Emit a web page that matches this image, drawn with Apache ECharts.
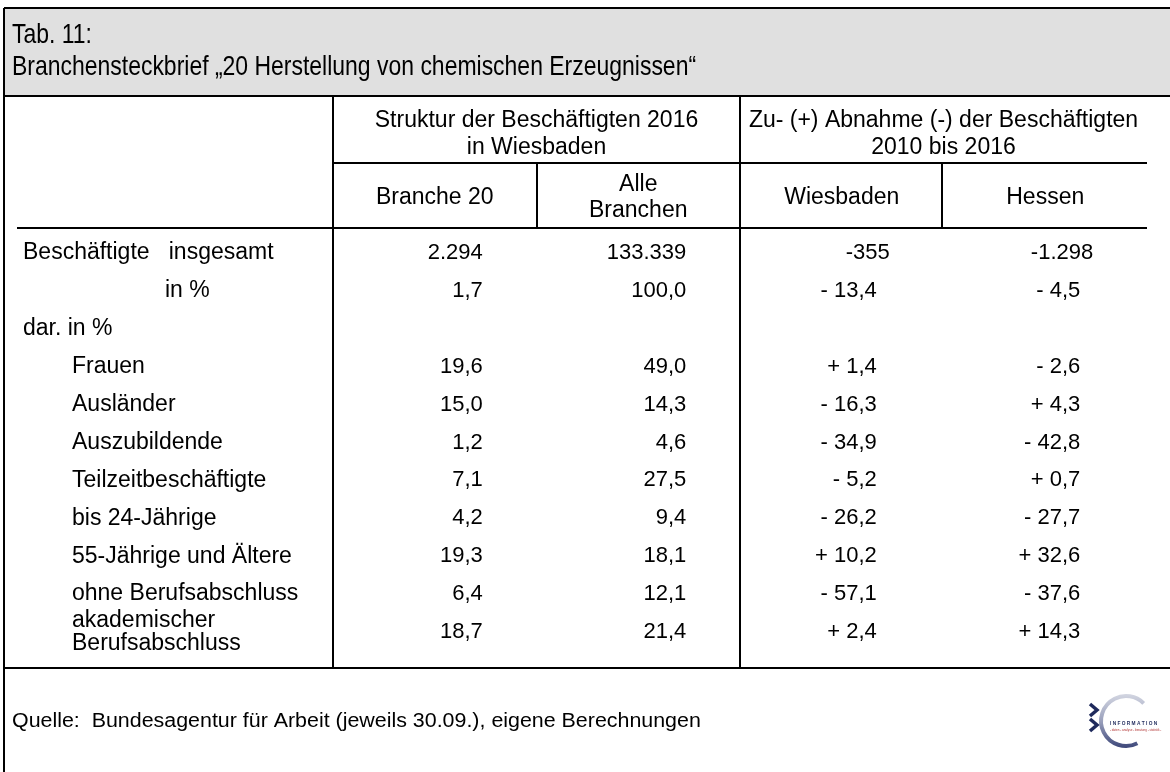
<!DOCTYPE html>
<html>
<head>
<meta charset="utf-8">
<script src="https://cdn.jsdelivr.net/npm/echarts@6/dist/echarts.min.js"></script>
<style>
  html, body { margin: 0; padding: 0; background: #fff; }
  #chart { width: 1170px; height: 772px; }
</style>
</head>
<body>
<div id="chart"></div>
<script>
// Zeilen der Tabelle
const rowLabels = [
  'Beschäftigte   insgesamt', 'in %', 'dar. in %', 'Frauen', 'Ausländer', 'Auszubildende',
  'Teilzeitbeschäftigte', 'bis 24-Jährige', '55-Jährige und Ältere', 'ohne Berufsabschluss',
  'akademischer\nBerufsabschluss'
]
// 0 = Hauptzeile, 1 = "in %", 2 = Unterzeile
const rowLevel = [0, 1, 0, 2, 2, 2, 2, 2, 2, 2, 2]
const columns = ['Branche 20', 'Alle\nBranchen', 'Wiesbaden', 'Hessen']
const groups = ['Struktur der Beschäftigten 2016\nin Wiesbaden', 'Zu- (+) Abnahme (-) der Beschäftigten\n2010 bis 2016']

const branche20 = [2294, 1.7, null, 19.6, 15.0, 1.2, 7.1, 4.2, 19.3, 6.4, 18.7]
const alleBranchen = [133339, 100.0, null, 49.0, 14.3, 4.6, 27.5, 9.4, 18.1, 12.1, 21.4]
const wiesbaden = [-355, -13.4, null, 1.4, -16.3, -34.9, -5.2, -26.2, 10.2, -57.1, 2.4]
const hessen = [-1298, -4.5, null, -2.6, 4.3, -42.8, 0.7, -27.7, 32.6, -37.6, 14.3]

const titleText = 'Tab. 11:\nBranchensteckbrief „20 Herstellung von chemischen Erzeugnissen“'
const sourceText = 'Quelle:  Bundesagentur für Arbeit (jeweils 30.09.), eigene Berechnungen'

const FONT = "'Liberation Sans', Arial, sans-serif"
const LINE = '#000'
const NAVY = '#1f2a5c'

const fmtInt = (v) => (v < 0 ? '-' : '') + String(Math.abs(v)).replace(/\B(?=(\d{3})+(?!\d))/g, '.')
const fmtDec = (v) => Math.abs(v).toFixed(1).replace('.', ',')

// Zellen aufbauen: [spalte, zeile, text, offset]
const cells = []
const allCols = [branche20, alleBranchen, wiesbaden, hessen]
allCols.forEach((col, c) => {
  col.forEach((v, r) => {
    if (v === null) return
    const change = c >= 2
    let txt, off = 48
    if (r === 0) {
      txt = fmtInt(v)
    } else if (change) {
      txt = (v < 0 ? '- ' : '+ ') + fmtDec(v)
      off = 35
    } else {
      txt = fmtDec(v)
    }
    cells.push([c, r, txt, off])
  })
})

const line = (x1, y1, x2, y2) => ({
  type: 'line',
  shape: { x1, y1, x2, y2 },
  style: { stroke: LINE, lineWidth: 2 },
  z: 10
})

const chart = echarts.init(document.getElementById('chart'))
const option = {
  animation: false,
  grid: { left: 333, right: 23, top: 234, bottom: 121 },
  xAxis: [
    {
      type: 'category',
      position: 'top',
      data: columns,
      axisLine: { show: false },
      axisTick: { show: false },
      splitLine: { show: false },
      axisLabel: {
        margin: 36,
        verticalAlign: 'middle',
        fontFamily: FONT,
        fontSize: 23,
        lineHeight: 26,
        color: '#000',
        interval: 0
      }
    },
    {
      type: 'category',
      position: 'top',
      data: groups,
      axisLine: { show: false },
      axisTick: { show: false },
      axisLabel: {
        margin: 100,
        verticalAlign: 'middle',
        fontFamily: FONT,
        fontSize: 23,
        lineHeight: 27,
        color: '#000',
        interval: 0
      }
    }
  ],
  yAxis: {
    type: 'category',
    inverse: true,
    data: rowLabels,
    axisLine: { show: false },
    axisTick: { show: false },
    axisLabel: {
      margin: 310,
      align: 'left',
      interval: 0,
      fontFamily: FONT,
      fontSize: 23,
      color: '#000',
      formatter: (val, idx) => {
        const key = ['l0', 'l1', 'l2'][rowLevel[idx]]
        return val.split('\n').map(s => `{${key}|${s}}`).join('\n')
      },
      rich: {
        l0: { fontFamily: FONT, fontSize: 23, lineHeight: 23, color: '#000' },
        l1: { fontFamily: FONT, fontSize: 23, lineHeight: 23, color: '#000', padding: [0, 0, 0, 142] },
        l2: { fontFamily: FONT, fontSize: 23, lineHeight: 23, color: '#000', padding: [0, 0, 0, 49] }
      }
    }
  },
  series: [
    {
      type: 'custom',
      xAxisIndex: 0,
      data: cells.map(d => [d[0], d[1]]),
      renderItem: (params, api) => {
        const d = cells[params.dataIndex]
        const p = api.coord([api.value(0), api.value(1)])
        return {
          type: 'text',
          style: {
            x: p[0] + d[3],
            y: p[1],
            text: d[2],
            align: 'right',
            verticalAlign: 'middle',
            fontFamily: FONT,
            fontSize: 22,
            fill: '#000'
          }
        }
      }
    }
  ],
  graphic: [
    {
      type: 'rect',
      shape: { x: 4, y: 8, width: 1166, height: 88 },
      style: { fill: '#e0e0e0' },
      z: 0
    },
    {
      type: 'text',
      x: 12,
      y: 19,
      scaleX: 0.82,
      z: 20,
      style: {
        text: titleText,
        fontFamily: FONT,
        fontSize: 28,
        lineHeight: 32,
        fill: '#000'
      }
    },
    line(4, 8, 1170, 8),
    line(4, 8, 4, 772),
    line(4, 96, 1170, 96),
    line(333, 163, 1147, 163),
    line(17, 228, 1147, 228),
    line(333, 96, 333, 668),
    line(740, 96, 740, 668),
    line(537, 163, 537, 228),
    line(942, 163, 942, 228),
    line(4, 668, 1170, 668),
    {
      type: 'text',
      x: 12,
      y: 721,
      scaleX: 1.07,
      style: {
        text: sourceText,
        fontFamily: FONT,
        fontSize: 20,
        fill: '#000',
        verticalAlign: 'middle'
      }
    },
    // Logo
    {
      type: 'group',
      x: 1126,
      y: 721,
      children: [
        {
          type: 'arc',
          shape: { cx: 0, cy: 0, r: 25, startAngle: Math.PI * 0.35, endAngle: Math.PI * 1.75, clockwise: true },
          style: {
            stroke: new echarts.graphic.LinearGradient(0, 1, 0, 0, [
              { offset: 0, color: '#3b4578' },
              { offset: 0.5, color: '#9aa0bc' },
              { offset: 1, color: '#d4d7e2' }
            ]),
            lineWidth: 4,
            fill: null
          }
        },
        {
          type: 'polyline',
          shape: { points: [[-36, -17], [-29, -11], [-36, -5]] },
          style: { stroke: NAVY, lineWidth: 3.5, fill: null }
        },
        {
          type: 'polyline',
          shape: { points: [[-36, -2], [-29, 4], [-36, 10]] },
          style: { stroke: NAVY, lineWidth: 3.5, fill: null }
        },
        {
          type: 'rect',
          shape: { x: -18, y: -1, width: 52, height: 13 },
          style: { fill: '#fff' }
        },
        {
          type: 'text',
          x: -16,
          y: 3,
          style: { text: 'I N F O R M A T I O N', fontFamily: FONT, fontSize: 4.8, fontWeight: 'bold', fill: NAVY, verticalAlign: 'middle' }
        },
        {
          type: 'text',
          x: -16,
          y: 9,
          style: { text: '- daten - analyse - beratung - statistik -', fontFamily: FONT, fontSize: 3, fill: '#b03030', verticalAlign: 'middle' }
        }
      ]
    }
  ]
}
chart.setOption(option)
</script>
</body>
</html>
